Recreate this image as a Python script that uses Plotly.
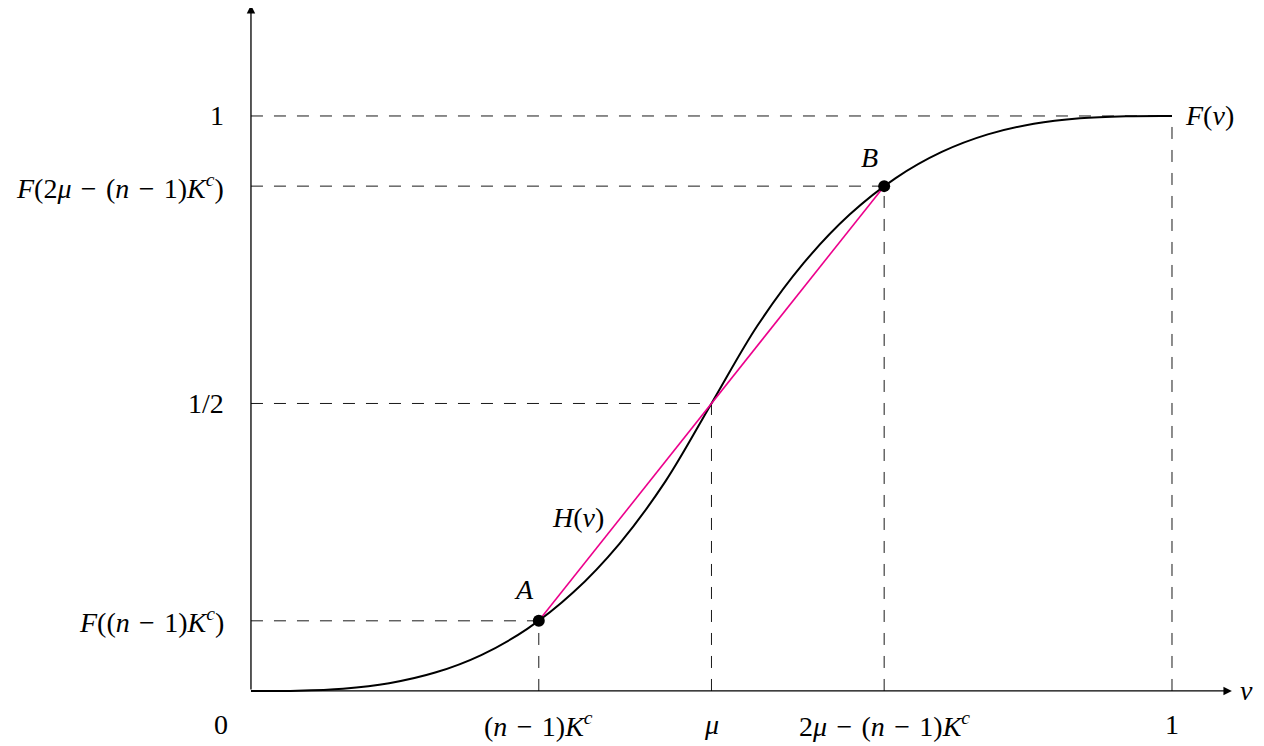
import plotly.graph_objects as go

# curve F(v), values
v_vals = [0, 0.05, 0.1, 0.15, 0.2, 0.25, 0.3, 0.35, 0.4, 0.45, 0.5,
          0.55, 0.6, 0.65, 0.7, 0.75, 0.8, 0.85, 0.9, 0.95, 1.0]
F_vals = [0, 0.0005, 0.004, 0.0135, 0.032, 0.0625, 0.108, 0.1715, 0.256, 0.3645, 0.5,
          0.6355, 0.744, 0.8285, 0.892, 0.9375, 0.968, 0.9865, 0.996, 0.9995, 1.0]

# marked points A, B and the median
A = (0.3125, 0.122)
B = (0.6875, 0.878)
mu = (0.5, 0.5)

M = "\u200a − \u200a"  # minus with math-like spacing
x_ticks = [A[0], mu[0], B[0], 1.0]
x_labels = [f"(<i>n</i>{M}1)<i>K</i><sup><i>c</i></sup>", "<i>μ</i>",
            f"2<i>μ</i>{M}(<i>n</i>{M}1)<i>K</i><sup><i>c</i></sup>", "1"]
y_ticks = [1.0, B[1], 0.5, A[1]]
y_labels = ["1", f"<i>F</i>(2<i>μ</i>{M}(<i>n</i>{M}1)<i>K</i><sup><i>c</i></sup>)",
            "1/2", f"<i>F</i>((<i>n</i>{M}1)<i>K</i><sup><i>c</i></sup>)"]

FONT = "Liberation Serif"
FS = 28
DASH = "12px,11px"
GREY = "#1a1a1a"

fig = go.Figure()

fig.add_trace(go.Scatter(x=v_vals, y=F_vals, mode="lines", line_shape="spline",
                         line=dict(color="black", width=2), hoverinfo="skip"))
fig.add_trace(go.Scatter(x=[A[0], B[0]], y=[A[1], B[1]], mode="lines",
                         line=dict(color="#EC008C", width=1.6), hoverinfo="skip"))
fig.add_trace(go.Scatter(x=[A[0], B[0]], y=[A[1], B[1]], mode="markers",
                         marker=dict(color="black", size=12), hoverinfo="skip"))

shapes = []
# horizontal dashed guides from the y axis to the curve
for xt, yt in [(1.0, 1.0), (B[0], B[1]), (mu[0], mu[1]), (A[0], A[1])]:
    shapes.append(dict(type="line", x0=0, x1=xt, y0=yt, y1=yt, layer="below",
                       line=dict(color=GREY, width=1, dash=DASH)))
# vertical dashed guides from the x axis up to the curve
for xt, yt in [(A[0], A[1]), (mu[0], mu[1]), (B[0], B[1]), (1.0, 1.0)]:
    shapes.append(dict(type="line", x0=xt, x1=xt, y0=0, y1=yt, layer="below",
                       line=dict(color=GREY, width=1, dash=DASH)))

ann = []
# axes with arrow heads
ann.append(dict(x=1.065, y=0, ax=0, ay=0, xref="x", yref="y", axref="x", ayref="y",
                text="", showarrow=True, arrowhead=2, arrowsize=1.3, arrowwidth=1.3,
                arrowcolor="black"))
ann.append(dict(x=0, y=1.193, ax=0, ay=0, xref="x", yref="y", axref="x", ayref="y",
                text="", showarrow=True, arrowhead=2, arrowsize=1.3, arrowwidth=1.3,
                arrowcolor="black"))

for xt, lab in zip(x_ticks, x_labels):
    ann.append(dict(x=xt, y=-0.059, text=lab, showarrow=False, xanchor="center",
                    yanchor="middle"))
for yt, lab in zip(y_ticks, y_labels):
    ann.append(dict(x=-0.027, y=yt, text=lab, showarrow=False, xanchor="right",
                    yanchor="middle"))
ann.append(dict(x=-0.033, y=-0.059, text="0", showarrow=False))
ann.append(dict(x=1.072, y=0, text="<i>v</i>", showarrow=False, xanchor="left"))
ann.append(dict(x=1.012, y=1.0, text="<i>F</i>(<i>v</i>)", showarrow=False, xanchor="left"))
ann.append(dict(x=0.355, y=0.301, text="<i>H</i>(<i>v</i>)", showarrow=False))
ann.append(dict(x=A[0] - 0.016, y=A[1] + 0.054, text="<i>A</i>", showarrow=False))
ann.append(dict(x=B[0] - 0.016, y=B[1] + 0.05, text="<i>B</i>", showarrow=False))

# page has an 8px body margin, so the figure is 8px smaller and the ranges shifted
fig.update_layout(
    width=1256, height=738,
    margin=dict(l=0, r=0, t=0, b=0),
    paper_bgcolor="white", plot_bgcolor="white",
    showlegend=False,
    font=dict(family=FONT, size=FS, color="black"),
    xaxis=dict(range=[-0.2638, 1.0999], visible=False, fixedrange=True),
    yaxis=dict(range=[-0.0957, 1.1878], visible=False, fixedrange=True),
    shapes=shapes,
    annotations=ann,
)

fig.write_html("out.html")
